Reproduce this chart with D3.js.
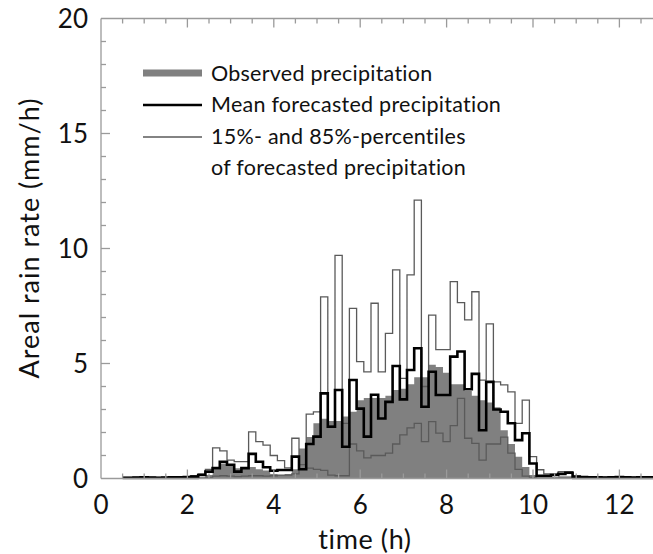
<!DOCTYPE html>
<html><head><meta charset="utf-8">
<script src="https://cdn.jsdelivr.net/npm/d3@7/dist/d3.min.js"></script>
<style>
html,body{margin:0;padding:0;background:#fff;}
svg{display:block;font-family:Lato,"Open Sans",sans-serif;font-variant-ligatures:none;font-feature-settings:"liga" 0;}
</style></head>
<body>
<svg id="chart" width="653" height="554"></svg>
<script>
// bin centres, minutes
const timeMin = [30,40,50,60,70,80,90,100,110,120,130,140,150,160,170,180,190,200,210,220,230,240,250,260,270,280,290,300,310,320,330,340,350,360,370,380,390,400,410,420,430,440,450,460,470,480,490,500,510,520,530,540,550,560,570,580,590,600,610,620,630,640,650,660,670,680,690,700,710,720,730,740,750,760,770];
// observed areal precipitation (mm/h)
const observed = [0,0,0,0,0,0,0,0,0,0,0,0.05,0.15,0.4,0.65,0.6,0.45,0.5,0.5,0.4,0.35,0.2,0.15,0.2,0.4,1.3,1.8,2.4,2.6,2.5,2.5,2.7,2.9,3.4,3.5,3.5,3.5,3.6,3.85,3.9,4.1,4.4,4.4,4.95,4.85,4.6,4.1,4.1,3.8,3.6,3.4,3.3,3.1,2.1,1.5,0.95,0.5,0.15,0.05,0.05,0.05,0.1,0.1,0,0,0,0,0,0,0,0,0,0,0,0];
// mean forecasted precipitation
const meanFc = [0.03,0.03,0.04,0.05,0.04,0.03,0.04,0.05,0.05,0.06,0.08,0.15,0.3,0.45,0.73,0.6,0.3,0.45,1.07,0.73,0.49,0.34,0.37,0.37,0.95,0.4,1.5,1.82,3.7,2.25,3.85,1.38,4.28,3.04,1.82,3.64,2.61,3.33,4.89,3.44,4.72,5.66,3.12,4.64,3.63,3.63,5.3,5.52,3.88,4.55,2.1,4.2,3.0,2.9,2.4,1.67,1.97,0.65,0.12,0.12,0.15,0.2,0.25,0.08,0.06,0.05,0.05,0.04,0.05,0.06,0.05,0.04,0.05,0.05,0.04];
// 85 % percentile
const p85 = [0.05,0.05,0.06,0.07,0.06,0.05,0.06,0.07,0.07,0.08,0.12,0.2,0.4,1.33,1.2,0.8,0.73,0.73,2.03,1.6,1.45,1.0,0.78,0.46,1.75,0.6,2.8,2.9,7.9,2.3,9.7,2.4,7.4,5.08,4.64,7.62,4.64,6.31,9.07,4.35,8.85,12.1,4.0,7.1,5.6,5.6,8.56,7.65,6.9,8.12,4.28,6.72,4.2,4.07,3.77,2.4,3.41,0.95,0.38,0.2,0.2,0.3,0.3,0.1,0.08,0.07,0.07,0.06,0.07,0.08,0.07,0.06,0.07,0.07,0.06];
// 15 % percentile
const p15 = [0,0,0,0,0,0,0,0,0,0,0,0.02,0.05,0.1,0.12,0.1,0.08,0.1,0.12,0.12,0.1,0.12,0.15,0.15,0.2,0.4,0.45,0.4,0.35,0.15,0.12,0.12,1.5,1.2,0.9,1.0,1.0,1.1,1.5,1.9,2.2,2.4,1.6,2.47,1.97,1.6,2.3,3.48,1.75,1.53,0.8,1.5,1.5,1.8,1.1,0.4,0.1,0.05,0.02,0.02,0.02,0.02,0.02,0,0,0,0,0,0,0,0,0,0,0,0];

const xMajor = [0,2,4,6,8,10,12];
const yMajor = [0,5,10,15,20];
const xTitle = "time (h)";
const yTitle = "Areal rain rate (mm/h)";
const legendLabels = ["Observed precipitation","Mean forecasted precipitation","15%- and 85%-percentiles","of forecasted precipitation"];

const svg = d3.select("#chart");
const x = d3.scaleLinear().domain([0,13]).range([101, 101 + 13*43.2]);
const y = d3.scaleLinear().domain([0,20]).range([478.5, 18.5]);
const axisCol = "#9a9a9a";

const rows = timeMin.map((m,i)=>({t:m/60, o:observed[i], m:meanFc[i], hi:p85[i], lo:p15[i]}));

// observed fill
svg.append("path").datum(rows)
  .attr("d", d3.area().curve(d3.curveStep).x(d=>x(d.t)).y0(y(0)).y1(d=>y(d.o)))
  .attr("fill","#808080");

const line = key => d3.line().curve(d3.curveStep).x(d=>x(d.t)).y(d=>y(d[key]));
svg.append("path").datum(rows).attr("d", line("lo")).attr("fill","none").attr("stroke","#5a5a5a").attr("stroke-width",1.3);
svg.append("path").datum(rows).attr("d", line("hi")).attr("fill","none").attr("stroke","#5a5a5a").attr("stroke-width",1.3);
svg.append("path").datum(rows).attr("d", line("m")).attr("fill","none").attr("stroke","#000").attr("stroke-width",2.6);

// frame
const fr = svg.append("g").attr("stroke",axisCol).attr("stroke-width",1.3).attr("fill","none");
fr.append("line").attr("x1",x(0)).attr("x2",653).attr("y1",y(20)).attr("y2",y(20));
fr.append("line").attr("x1",x(0)).attr("x2",x(0)).attr("y1",y(20)).attr("y2",y(0));
fr.append("line").attr("x1",x(0)).attr("x2",653).attr("y1",y(0)).attr("y2",y(0));

// ticks (inward)
const xTicks = d3.range(0.5, 13.01, 0.5);
xTicks.forEach(v=>{
  const len = (v % 2 === 0) ? 9 : 5;
  fr.append("line").attr("x1",x(v)).attr("x2",x(v)).attr("y1",y(20)).attr("y2",y(20)+len);
  fr.append("line").attr("x1",x(v)).attr("x2",x(v)).attr("y1",y(0)).attr("y2",y(0)-len);
});
d3.range(1, 20, 1).forEach(v=>{
  const len = (v % 5 === 0) ? 9 : 5;
  fr.append("line").attr("x1",x(0)).attr("x2",x(0)+len).attr("y1",y(v)).attr("y2",y(v));
});

// tick labels
svg.append("g").selectAll("text").data(xMajor).join("text")
  .attr("x",d=>x(d)).attr("y",514).attr("text-anchor","middle")
  .attr("font-size",26).attr("fill","#111").text(d=>d);
svg.append("g").selectAll("text").data(yMajor).join("text")
  .attr("x",88).attr("y",d=>y(d)+9).attr("text-anchor","end")
  .attr("font-size",26).attr("fill","#111").text(d=>d);

svg.append("text").attr("x",365).attr("y",549).attr("text-anchor","middle")
  .attr("font-size",27).attr("letter-spacing",0.6).attr("fill","#111").text(xTitle);
svg.append("text").attr("transform","translate(39,238) rotate(-90)").attr("text-anchor","middle")
  .attr("font-size",27).attr("letter-spacing",1).attr("fill","#111").text(yTitle);

// legend
const lg = svg.append("g");
lg.append("line").attr("x1",143).attr("x2",202).attr("y1",73).attr("y2",73).attr("stroke","#808080").attr("stroke-width",7);
lg.append("line").attr("x1",143).attr("x2",202).attr("y1",105).attr("y2",105).attr("stroke","#000").attr("stroke-width",2.6);
lg.append("line").attr("x1",143).attr("x2",202).attr("y1",137).attr("y2",137).attr("stroke","#5a5a5a").attr("stroke-width",1.3);
const ly = [81, 112, 144, 175];
lg.selectAll("text").data(legendLabels).join("text")
  .attr("x",211).attr("y",(d,i)=>ly[i]).attr("font-size",21.5).attr("letter-spacing",0.25).attr("fill","#111").text(d=>d);
</script>
</body></html>
